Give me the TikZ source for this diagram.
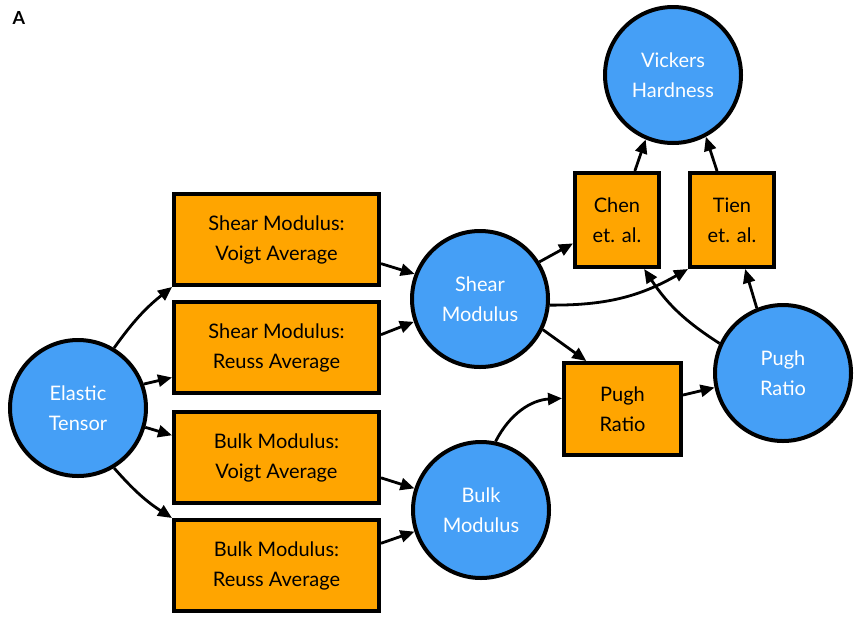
\documentclass[tikz,border=0pt]{standalone}
\usepackage{fontspec}
\setmainfont{Lato}
\usetikzlibrary{arrows.meta}
\usetikzlibrary{positioning}
\definecolor{propblue}{RGB}{69,159,246}
\definecolor{calcorange}{RGB}{255,165,0}
\tikzset{
  prop/.style={circle,draw=black,line width=2pt,fill=propblue,text=white,
    minimum size=68pt,inner sep=0pt,align=center,font=\fontsize{10}{15}\selectfont},
  calc/.style={rectangle,draw=black,line width=2pt,fill=calcorange,text=black,
    inner sep=0pt,align=center,font=\fontsize{10}{15}\selectfont},
  calc wide/.style={calc,minimum width=102.5pt,minimum height=45.5pt},
  calc narrow/.style={calc,minimum width=42pt,minimum height=47pt},
  calc mid/.style={calc,minimum width=58.5pt,minimum height=46pt},
  flow/.style={-{Triangle[length=7pt,width=6pt]},line width=1.4pt}
}
\begin{document}
\begin{tikzpicture}[x={(0.5pt,0)},y={(0,-0.5pt)}]
\useasboundingbox (0,0) rectangle (856,616);
\node[font=\bfseries\fontsize{9}{10}\selectfont] (lbl) at (19,18) {A};
% properties
\node[prop] (elastic) at (78,408) {Elastic\\Tensor};
\node[prop] (shear) at (480,299) {Shear\\Modulus};
\node[prop] (bulk) at (481,510) {Bulk\\Modulus};
\node[prop] (pugh) at (783,373) {Pugh\\Ratio};
\node[prop] (vickers) at (673,75) {Vickers\\Hardness};
% calculations
\node[calc wide] (shearV) at (276.5,239.5) {Shear Modulus:\\Voigt Average};
\node[calc wide] (shearR) at (276.5,347.5) {Shear Modulus:\\Reuss Average};
\node[calc wide] (bulkV) at (276.5,457.5) {Bulk Modulus:\\Voigt Average};
\node[calc wide] (bulkR) at (276.5,565.5) {Bulk Modulus:\\Reuss Average};
\node[calc narrow] (chen) at (617,220) {Chen\\et. al.};
\node[calc narrow] (tien) at (732,220) {Tien\\et. al.};
\node[calc mid] (pughcalc) at (622.5,409) {Pugh\\Ratio};
% connections
\draw[flow] (elastic.59) to[bend left=8] (shearV.south west);
\draw[flow] (elastic.20) -- (shearR.196);
\draw[flow] (elastic.-16) -- (bulkV.168);
\draw[flow] (elastic.-59) to[bend right=8] (bulkR.north west);
\draw[flow] (shearV.-13) -- (shear.159);
\draw[flow] (shearR.7) -- (shear.199);
\draw[flow] (bulkV.-11) -- (bulk.162);
\draw[flow] (bulkR.12) -- (bulk.198);
\draw[flow] (shear.32) -- (chen.208);
\draw[flow] (shear.-5) to[bend right=15] (tien.south west);
\draw[flow] (shear.-26) -- (pughcalc.127);
\draw[flow] (bulk.78) to[bend left=30] (pughcalc.170);
\draw[flow] (pughcalc.13) -- (pugh.192);
\draw[flow] (pugh.155) to[bend left=12] (chen.-61);
\draw[flow] (pugh.112) -- (tien.-75);
\draw[flow] (chen.70) -- (vickers.247);
\draw[flow] (tien.107) -- (vickers.-62);
\end{tikzpicture}
\end{document}
